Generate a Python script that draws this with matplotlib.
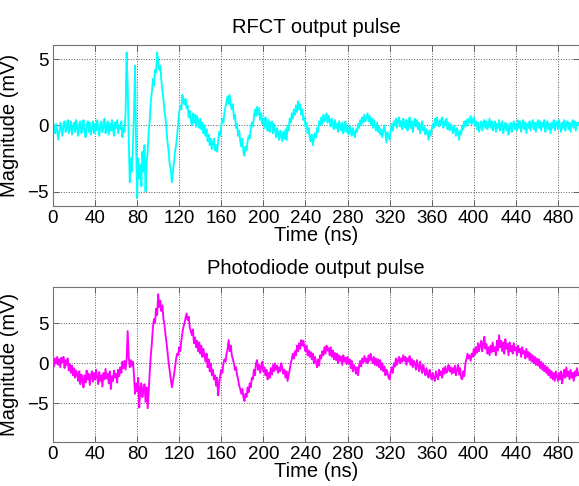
import matplotlib
matplotlib.use("Agg")
import matplotlib.pyplot as plt
import numpy as np

plt.rcParams['font.family'] = ['Liberation Sans', 'DejaVu Sans']

# sample step of the read-off traces (ns)
dt = 1.0

# RFCT output pulse (mV), one value per ns from 0 ns
rfct = [
    0.3, -0.2, -0.6, 0.1, -0.4, -1.1, -0.5, 0.2, -0.3, -0.8, 0.1, 0.3, -0.5, -0.1, 0.4, -0.6, -0.2, 0.3, -0.7, -0.1,  # 0
    0.2, -0.5, 0.4, -0.3, -0.8, 0.1, 0.3, -0.6, -0.2, 0.4, -0.4, -0.9, 0.0, 0.3, -0.5, 0.2, -0.7, -0.2, 0.3, -0.6,  # 20
    0.1, -0.4, 0.4, -0.3, -0.8, 0.0, 0.3, -0.5, -0.1, 0.5, -0.6, -0.2, 0.3, -0.7, 0.1, -0.4, 0.4, -0.3, -0.8, 0.2,  # 40
    -0.2, 0.4, -0.6, 0.0, -0.3, 0.3, -0.9, -0.2, -0.5, 1.0, 5.5, 3.0, -1.0, -4.3, -2.5, -3.5, -1.5, 1.0, 4.5, -1.5,  # 60
    -5.5, -2.5, -4.0, -3.0, -4.6, -2.0, -3.5, -1.5, -5.0, -2.8, -2.0, -0.5, 0.5, 1.8, 2.5, 3.5, 3.0, 4.2, 4.0, 5.5,  # 80
    4.8, 4.2, 4.5, 3.4, 2.6, 2.0, 1.0, 0.5, -0.5, -1.4, -2.0, -3.0, -3.3, -4.3, -3.5, -2.8, -2.0, -1.5, -0.8, 0.2,  # 100
    1.0, 1.5, 1.2, 2.3, 1.8, 1.6, 2.0, 1.3, 1.5, 0.6, 1.1, 0.4, 0.0, 0.9, 0.2, 0.8, -0.1, 0.7, 0.3, -0.2,  # 120
    0.5, -0.3, 0.2, -0.6, 0.0, -0.8, -0.3, -1.2, -0.7, -1.5, -1.0, -1.8, -1.3, -1.0, -1.9, -1.5, -2.0, -1.2, -0.5, -0.8,  # 140
    0.0, 0.5, 0.2, 1.0, 1.4, 1.8, 2.2, 1.6, 2.3, 1.5, 1.2, 1.6, 0.5, 0.8, -0.2, 0.1, -0.8, -0.4, -1.2, -1.6,  # 160
    -1.0, -2.0, -2.3, -1.6, -1.9, -1.2, -0.8, -1.0, -0.3, 0.2, -0.1, 0.6, 1.2, 0.7, 1.4, 0.8, 1.3, 0.4, 0.9, 0.1,  # 180
    0.5, -0.2, 0.6, 0.0, -0.4, 0.4, -0.5, 0.2, 0.3, -0.6, 0.1, -0.3, -0.9, -0.2, -0.6, -1.1, -0.4, -0.8, -1.2, -0.5,  # 200
    -1.0, -0.3, -1.1, 0.0, -0.4, 0.5, 0.2, 0.9, 0.5, 1.2, 0.8, 1.5, 1.0, 1.8, 1.2, 1.6, 0.8, 1.2, 0.4, 0.6,  # 220
    -0.1, 0.2, -0.6, -0.2, -0.9, -1.2, -0.7, -1.5, -1.0, -0.6, -0.9, -0.2, -0.5, 0.3, 0.0, 0.6, 0.1, 0.8, 0.3, 0.5,  # 240
    0.9, 0.2, 0.7, 0.4, -0.1, 0.5, 0.0, -0.3, 0.4, -0.2, 0.1, -0.5, 0.3, -0.1, -0.4, 0.2, -0.6, -0.1, 0.3, -0.5,  # 260
    -0.2, -0.7, 0.0, -0.4, -0.8, -0.2, -0.6, -0.9, -0.3, -0.5, 0.1, -0.2, 0.4, 0.0, 0.6, 0.2, 0.8, 0.3, 0.6, 0.9,  # 280
    0.3, 0.7, 0.1, 0.5, -0.2, 0.4, 0.0, -0.4, 0.2, -0.5, -0.1, -0.7, -0.3, -0.9, -0.4, 0.0, -0.6, -1.3, -0.5, -0.8,  # 300
    -1.1, -0.3, 0.1, -0.4, 0.3, 0.0, 0.5, -0.2, 0.4, 0.6, -0.1, 0.3, -0.3, 0.5, 0.1, -0.2, 0.4, -0.4, 0.2, 0.6,  # 320
    -0.2, 0.3, -0.5, 0.1, 0.5, -0.1, 0.4, -0.3, 0.2, -0.6, 0.0, 0.3, -0.4, -0.1, -0.7, -0.3, -0.5, -1.1, -0.4, -0.8,  # 340
    -0.3, 0.1, -0.2, 0.5, 0.0, 0.6, 0.2, -0.1, 0.4, 0.1, 0.6, -0.2, 0.3, 0.0, 0.5, -0.3, 0.2, -0.4, 0.1, -0.2,  # 360
    -0.6, 0.0, -0.3, -0.8, -0.2, -0.5, -1.1, -0.4, -0.7, 0.0, -0.3, 0.3, -0.1, 0.4, 0.0, 0.5, 0.2, 0.7, 0.1, 0.4,  # 380
    0.6, 0.0, 0.3, -0.3, 0.2, -0.5, -0.1, 0.3, -0.4, 0.2, 0.4, -0.2, 0.3, -0.3, 0.1, 0.5, -0.2, 0.3, -0.4, 0.0,  # 400
    0.3, -0.5, 0.1, -0.2, 0.4, -0.4, 0.0, 0.3, -0.6, -0.1, 0.2, -0.4, 0.1, -0.7, -0.2, 0.2, -0.5, 0.0, 0.3, -0.3,  # 420
    0.1, -0.4, 0.4, -0.2, 0.3, -0.5, 0.0, 0.4, -0.3, 0.2, -0.6, 0.1, -0.2, 0.3, -0.4, 0.0, 0.4, -0.3, 0.2, -0.5,  # 440
    0.1, 0.4, -0.2, 0.3, -0.4, 0.2, -0.1, 0.4, -0.5, 0.0, 0.3, -0.3, 0.1, -0.6, 0.2, -0.2, 0.4, -0.4, 0.1, 0.3,  # 460
    -0.3, 0.4, 0.0, -0.5, 0.2, -0.2, 0.4, -0.4, 0.1, 0.3, -0.3, 0.2, -0.5, 0.1, 0.4, -0.2, 0.3, -0.4, 0.2, 0.0,  # 480
    0.2,  # 500
]

# Photodiode output pulse (mV), one value per ns from 0 ns
photo = [
    0.3, -0.4, 0.6, 0.0, 0.8, -0.2, 0.5, -0.5, 0.7, 0.1, 0.8, -0.6, 0.4, -0.2, 0.6, -0.9, -0.1, -1.2, -0.3, -1.5,  # 0
    -0.6, -1.8, -0.9, -1.4, -2.2, -1.0, -2.6, -1.4, -2.0, -3.0, -1.5, -2.4, -0.9, -2.0, -1.3, -2.7, -1.6, -1.0, -2.3, -1.2,  # 20
    -2.0, -0.8, -1.8, -2.6, -1.1, -2.2, -1.5, -2.9, -1.2, -2.0, -0.7, -1.9, -1.3, -2.5, -1.0, -3.2, -1.6, -2.2, -0.9, -1.8,  # 40
    -1.3, -2.4, -0.8, -1.6, -0.5, -1.2, 0.2, -0.6, 0.3, -0.8, 0.5, 4.0, 0.8, -0.5, 0.4, -0.3, 0.2, -1.5, -3.8, -2.5,  # 60
    -3.5, -1.8, -5.5, -3.0, -2.5, -4.2, -3.2, -2.6, -4.8, -3.0, -5.6, -3.5, -1.0, 1.0, 2.5, 4.5, 5.5, 5.0, 6.8, 6.0,  # 80
    8.6, 7.0, 7.8, 6.5, 7.2, 5.5, 4.8, 3.5, 2.5, 1.2, 0.0, -1.0, -2.0, -3.0, -2.2, -1.5, -0.5, 0.5, 1.2, 1.0,  # 100
    2.0, 1.5, 2.8, 3.8, 4.5, 5.0, 5.6, 6.2, 5.4, 5.8, 4.5, 4.0, 3.5, 4.2, 2.5, 3.2, 2.0, 2.8, 1.5, 2.6,  # 120
    1.2, 2.2, 0.8, 1.8, 1.0, 0.2, 1.2, -0.5, 0.5, -1.0, 0.0, -1.5, -0.8, -2.0, -1.5, -2.8, -1.8, -4.0, -2.5, -1.5,  # 140
    -0.8, -1.2, 0.0, 0.5, 0.2, 1.2, 1.8, 2.9, 1.5, 2.2, 1.0, 0.5, 0.0, -0.8, -0.5, -1.5, -2.0, -2.8, -3.2, -3.8,  # 160
    -3.2, -4.2, -4.7, -3.8, -4.2, -3.0, -3.6, -2.5, -3.0, -1.8, -2.0, -0.8, -1.5, 0.0, 0.4, -0.8, -0.2, -1.2, -0.4, 0.2,  # 180
    -1.0, -0.5, -1.5, -0.8, -2.0, -1.2, -1.8, -0.6, -1.4, -0.2, -1.0, 0.0, -0.8, -0.3, -1.2, -0.5, -1.0, 0.0, -0.6, -1.3,  # 200
    -0.8, -1.8, -1.0, -2.2, -1.5, -0.8, 0.0, 0.5, 1.2, 0.6, 1.5, 1.0, 2.2, 1.5, 2.5, 1.8, 2.9, 2.2, 2.8, 2.0,  # 220
    1.5, 2.2, 1.0, 1.6, 0.8, 1.4, 0.5, 1.2, 0.0, 0.8, 0.2, -0.5, 0.5, -0.3, 1.0, 0.6, 1.5, 1.0, 2.0, 1.2,  # 240
    2.2, 1.6, 1.9, 1.0, 2.0, 0.8, 1.6, 0.5, 1.3, 0.4, 1.2, 0.0, 1.0, 0.3, 0.8, -0.2, 1.0, 0.2, 0.7, -0.1,  # 260
    0.8, 0.0, 0.5, -0.6, 0.3, -1.0, -0.2, -0.5, -1.3, -0.5, -1.5, -0.3, 0.3, -0.4, 0.6, 0.1, 0.9, 0.2, 0.6, 0.0,  # 280
    1.0, 0.3, 1.2, 0.5, 0.0, 0.8, -0.2, 0.6, -0.3, 0.5, -0.5, 0.4, -0.8, 0.0, -1.0, -0.4, -1.5, -0.8, -1.2, -1.8,  # 300
    -2.0, -1.0, -0.5, -1.2, 0.0, -0.4, 0.6, -0.2, 0.4, 0.8, 0.0, 0.6, 0.2, 1.0, 0.3, 0.8, -0.2, 0.6, 0.2, 0.9,  # 320
    -0.2, 0.5, -0.5, 0.3, 0.0, -0.8, 0.4, -0.3, -1.0, 0.2, -0.6, -1.2, -0.2, -0.9, -1.5, -0.6, -1.3, -1.8, -0.8, -1.5,  # 340
    -2.0, -1.2, -1.8, -2.2, -1.0, -1.6, -2.0, -0.8, -1.5, -1.0, -1.8, -0.6, -1.3, -0.4, -1.2, -0.8, -0.2, -1.0, -0.5, -1.3,  # 360
    -0.6, -1.2, -0.3, -1.5, -0.8, -0.2, -1.4, -0.6, -1.8, -2.0, -1.0, -1.6, 0.0, 0.5, 1.2, 0.6, 1.0, 0.3, 1.2, 0.8,  # 380
    1.8, 1.0, 2.0, 1.3, 2.5, 1.5, 2.2, 2.8, 1.5, 2.5, 3.3, 1.8, 2.4, 1.2, 2.0, 1.0, 2.2, 1.4, 2.6, 1.5,  # 400
    2.0, 1.0, 2.8, 1.6, 3.5, 2.0, 2.8, 1.5, 2.6, 1.2, 3.0, 1.8, 2.4, 1.0, 2.6, 1.5, 2.2, 1.2, 2.5, 1.6,  # 420
    2.0, 1.0, 2.2, 1.4, 1.8, 0.8, 2.0, 1.2, 1.5, 0.6, 1.8, 0.8, 1.4, 0.4, 1.2, 0.2, 1.0, 0.0, 0.8, -0.2,  # 440
    0.6, -0.3, 0.5, -0.6, 0.2, -0.8, 0.0, -1.0, -0.3, -1.2, -0.5, -1.5, -0.8, -1.8, -1.0, -2.0, -1.2, -2.2, -1.0, -1.6,  # 460
    -2.2, -1.2, -2.0, -1.0, -2.5, -1.5, -0.8, -1.8, -0.5, -1.6, -1.0, -2.0, -0.8, -1.8, -1.2, -2.2, -1.0, -1.6, -0.6, -1.5,  # 480
    -1.2,  # 500
]

xticks = list(range(0, 481, 40))

fig = plt.figure(figsize=(5.79, 4.86), dpi=100)
ax1 = fig.add_axes([0.0915, 0.576, 0.9085, 0.331])
ax2 = fig.add_axes([0.0915, 0.0905, 0.9085, 0.319])

panels = [
    (ax1, rfct, 'cyan', 'RFCT output pulse', (-6.1, 6.05), [-5, 0, 5]),
    (ax2, photo, 'magenta', 'Photodiode output pulse', (-9.8, 9.5), [-5, 0, 5]),
]

for ax, y, col, title, ylim, yticks in panels:
    t = np.arange(len(y)) * dt
    ax.plot(t, y, color=col, lw=1.35)
    ax.set_xlim(0, 500)
    ax.set_ylim(*ylim)
    ax.set_xticks(xticks)
    ax.set_yticks(yticks)
    ax.grid(True, color='0.35', linestyle=':', linewidth=0.7)
    ax.tick_params(direction='in', length=4, width=0.6, labelsize=13.5,
                   top=True, right=True, pad=3, color='0.3')
    for s in ax.spines.values():
        s.set_color('0.45')
        s.set_linewidth(0.8)
    ax.set_title(title, fontsize=14.5, pad=9)
    ax.set_xlabel('Time (ns)', fontsize=14.5, labelpad=-1)
    ax.set_ylabel('Magnitude (mV)', fontsize=14.5, labelpad=6)

fig.savefig('out.png', dpi=100)
